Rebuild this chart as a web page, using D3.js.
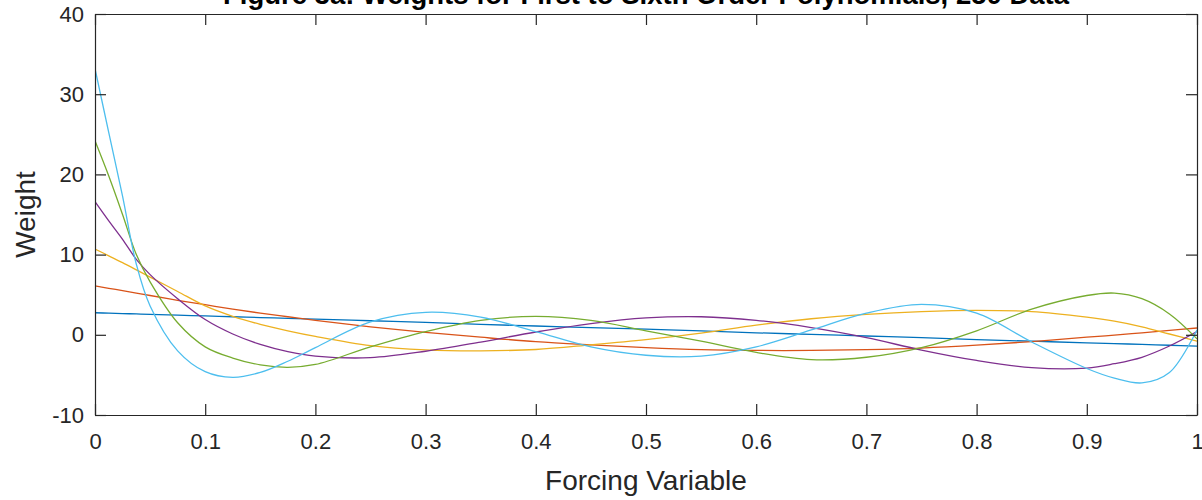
<!DOCTYPE html>
<html>
<head>
<meta charset="utf-8">
<script src="https://cdn.jsdelivr.net/npm/d3@7"></script>
<style>
  html, body { margin: 0; padding: 0; background: #fff; }
  svg { display: block; }
  text { font-family: "Liberation Sans", Arial, Helvetica, sans-serif; }
</style>
</head>
<body>
<svg id="chart" width="1202" height="500"></svg>
<script>
// ---- Data ----
const title = "Figure 3a: Weights for First to Sixth Order Polynomials, 250 Data";
const xLabel = "Forcing Variable";
const yLabel = "Weight";
const xTicks = [0, 0.1, 0.2, 0.3, 0.4, 0.5, 0.6, 0.7, 0.8, 0.9, 1];
const xTickLabels = ["0", "0.1", "0.2", "0.3", "0.4", "0.5", "0.6", "0.7", "0.8", "0.9", "1"];
const yTicks = [-10, 0, 10, 20, 30, 40];
const yTickLabels = ["-10", "0", "10", "20", "30", "40"];

const xs = [0, 0.0125, 0.025, 0.0375, 0.05, 0.075, 0.1, 0.125, 0.15, 0.175, 0.2, 0.25, 0.3, 0.35, 0.4,
            0.45, 0.5, 0.55, 0.6, 0.65, 0.7, 0.75, 0.8, 0.85, 0.9, 0.925, 0.95, 0.975, 1];

const order1 = [2.75, 2.7, 2.65, 2.6, 2.55, 2.45, 2.35, 2.25, 2.15, 2.05, 1.95, 1.75, 1.55, 1.3, 1.1,
                0.9, 0.7, 0.5, 0.25, 0.05, -0.15, -0.35, -0.6, -0.8, -1.0, -1.1, -1.2, -1.3, -1.4];
const order2 = [6.1, 5.8, 5.5, 5.2, 4.9, 4.3, 3.75, 3.2, 2.7, 2.25, 1.8, 1.0, 0.3, -0.3, -0.85,
                -1.25, -1.6, -1.85, -1.95, -1.95, -1.85, -1.65, -1.3, -0.85, -0.3, -0.05, 0.25, 0.55, 0.85];
const order3 = [10.7, 9.85, 9.0, 8.1, 7.2, 5.4, 3.6, 2.3, 1.3, 0.5, -0.2, -1.35, -1.88, -2.0, -1.83,
                -1.25, -0.6, 0.2, 1.2, 2.0, 2.55, 2.9, 3.05, 2.9, 2.2, 1.7, 1.0, 0.1, -0.8];
const order4 = [16.6, 14.2, 11.9, 9.4, 7.5, 4.5, 1.9, 0.1, -1.2, -2.1, -2.65, -2.85, -2.05, -0.9, 0.35,
                1.4, 2.1, 2.25, 1.8, 0.9, -0.35, -1.9, -3.2, -4.1, -4.15, -3.6, -2.8, -1.4, 0.4];
const order5 = [24.2, 19.8, 15.0, 10.0, 6.6, 1.5, -1.5, -2.9, -3.75, -4.05, -3.7, -1.5, 0.4, 1.8, 2.3,
                1.8, 0.5, -0.8, -2.2, -3.1, -2.8, -1.6, 0.5, 3.2, 4.9, 5.2, 4.5, 2.6, -0.5];
const order6 = [33.2, 25.2, 17.3, 8.8, 3.6, -2.0, -4.6, -5.3, -4.7, -3.3, -1.6, 1.6, 2.8, 2.2, 0.4,
                -1.5, -2.55, -2.65, -1.5, 0.6, 2.7, 3.8, 2.7, -0.9, -4.2, -5.4, -6.0, -4.7, 0.6];

const seriesValues = [order1, order2, order3, order4, order5, order6];
const seriesColors = ["#0072BD", "#D95319", "#EDB120", "#7E2F8E", "#77AC30", "#4DBEEE"];

// ---- Layout ----
const W = 1202, H = 500;
const plot = { left: 95, right: 1197, top: 14, bottom: 415 };
const axisColor = "#262626";
const tickLen = 11;
const tickFont = 22;

const svg = d3.select("#chart");
svg.append("rect").attr("width", W).attr("height", H).attr("fill", "#fff");

const x = d3.scaleLinear().domain([0, 1]).range([plot.left, plot.right]);
const y = d3.scaleLinear().domain([-10, 40]).range([plot.bottom, plot.top]);

svg.append("defs").append("clipPath").attr("id", "clip")
  .append("rect")
  .attr("x", plot.left).attr("y", plot.top)
  .attr("width", plot.right - plot.left).attr("height", plot.bottom - plot.top);

// Lines
const line = d3.line()
  .x(d => x(d[0]))
  .y(d => y(d[1]))
  .curve(d3.curveCatmullRom.alpha(0.5));

const gLines = svg.append("g").attr("clip-path", "url(#clip)");
seriesValues.forEach((vals, i) => {
  gLines.append("path")
    .datum(xs.map((xv, j) => [xv, vals[j]]))
    .attr("fill", "none")
    .attr("stroke", seriesColors[i])
    .attr("stroke-width", 1.3)
    .attr("d", line);
});

// Axes (box with inward ticks on all sides)
const fmtX = (d, i) => xTickLabels[i];
const fmtY = (d, i) => yTickLabels[i];

const axB = svg.append("g").attr("transform", `translate(0,${plot.bottom})`)
  .call(d3.axisBottom(x).tickValues(xTicks).tickFormat(fmtX).tickSizeInner(-tickLen).tickSizeOuter(0).tickPadding(18));
const axT = svg.append("g").attr("transform", `translate(0,${plot.top})`)
  .call(d3.axisTop(x).tickValues(xTicks).tickFormat("").tickSizeInner(-tickLen).tickSizeOuter(0));
const axL = svg.append("g").attr("transform", `translate(${plot.left},0)`)
  .call(d3.axisLeft(y).tickValues(yTicks).tickFormat(fmtY).tickSizeInner(-tickLen).tickSizeOuter(0).tickPadding(11));
const axR = svg.append("g").attr("transform", `translate(${plot.right},0)`)
  .call(d3.axisRight(y).tickValues(yTicks).tickFormat("").tickSizeInner(-tickLen).tickSizeOuter(0));

[axB, axT, axL, axR].forEach(g => {
  g.selectAll("path.domain").attr("stroke", axisColor).attr("stroke-width", 1.2);
  g.selectAll(".tick line").attr("stroke", axisColor).attr("stroke-width", 1.2);
  g.selectAll(".tick text").attr("fill", axisColor).attr("font-size", tickFont)
    .attr("font-family", "'Liberation Sans', Arial, sans-serif");
});

// Axis labels
svg.append("text")
  .attr("x", (plot.left + plot.right) / 2)
  .attr("y", 490)
  .attr("text-anchor", "middle")
  .attr("font-size", 28)
  .attr("fill", axisColor)
  .text(xLabel);

svg.append("text")
  .attr("transform", `translate(35,${(plot.top + plot.bottom) / 2}) rotate(-90)`)
  .attr("text-anchor", "middle")
  .attr("font-size", 28)
  .attr("fill", axisColor)
  .text(yLabel);

// Title (partly cut off at the top as in the reference)
svg.append("text")
  .attr("x", (plot.left + plot.right) / 2)
  .attr("y", 4)
  .attr("text-anchor", "middle")
  .attr("font-size", 27.5)
  .attr("font-weight", "bold")
  .attr("fill", "#000")
  .text(title);
</script>
</body>
</html>
